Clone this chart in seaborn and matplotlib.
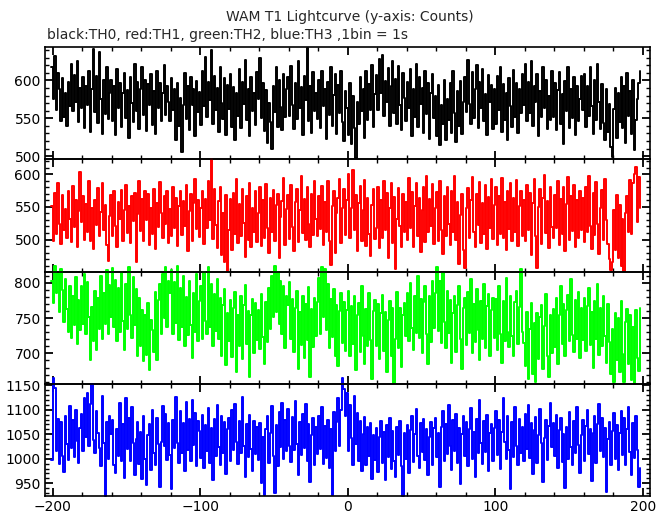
import numpy as np
import pandas as pd
import matplotlib
matplotlib.use("Agg")
import matplotlib.pyplot as plt
import seaborn as sns
from matplotlib.ticker import MultipleLocator

# ---- data (counts per 1 s bin) ----
time_start = -201  # first bin left edge (s)

th0_counts = [
    618, 575, 632, 561, 610, 588, 547, 603, 552, 584, 540, 598, 566, 621, 559, 607, 571, 626, 545, 590,
    563, 604, 537, 593, 568, 612, 532, 589, 641, 558, 606, 544, 638, 575, 529, 600, 556, 618, 549, 584,
    601, 547, 592, 528, 615, 563, 596, 538, 583, 610, 551, 587, 524, 604, 570, 545, 622, 559, 598, 536,
    589, 617, 554, 601, 533, 595, 568, 609, 541, 586, 529, 612, 563, 597, 546, 583, 620, 555, 592, 571,
    547, 603, 561, 588, 522, 596, 540, 577, 505, 568, 610, 549, 593, 535, 604, 567, 589, 526, 599, 558,
    585, 541, 612, 566, 631, 552, 598, 574, 640, 543, 606, 561, 590, 532, 617, 570, 549, 603, 528, 594,
    562, 608, 539, 591, 522, 584, 553, 615, 537, 598, 569, 627, 548, 589, 526, 604, 560, 583, 541, 611,
    576, 629, 551, 596, 533, 587, 518, 570, 545, 510, 592, 558, 618, 539, 601, 565, 534, 609, 552, 588,
    604, 553, 619, 568, 536, 597, 549, 625, 563, 591, 528, 606, 574, 643, 547, 592, 531, 611, 560, 583,
    549, 600, 537, 612, 566, 589, 523, 598, 554, 617, 540, 581, 608, 529, 594, 557, 613, 545, 520, 586,
    563, 528, 597, 516, 580, 537, 498, 571, 542, 605, 559, 589, 524, 612, 548, 595, 561, 620, 538, 582,
    607, 561, 628, 584, 633, 553, 599, 571, 616, 540, 593, 626, 557, 602, 543, 619, 568, 534, 610, 577,
    546, 598, 563, 615, 527, 589, 552, 621, 538, 604, 569, 590, 531, 612, 556, 597, 523, 583, 608, 550,
    579, 527, 594, 515, 568, 542, 601, 522, 575, 548, 596, 531, 613, 557, 519, 586, 540, 599, 529, 572,
    604, 558, 627, 569, 542, 611, 550, 589, 620, 537, 598, 563, 615, 546, 582, 528, 607, 571, 594, 536,
    589, 543, 606, 561, 617, 532, 595, 548, 584, 521, 603, 566, 538, 614, 552, 597, 531, 588, 557, 609,
    568, 622, 546, 598, 557, 625, 540, 593, 571, 609, 527, 586, 552, 618, 563, 601, 536, 580, 548, 612,
    552, 596, 534, 587, 611, 543, 582, 516, 599, 560, 618, 537, 589, 551, 604, 528, 592, 547, 575, 606,
    561, 609, 538, 592, 553, 617, 566, 529, 600, 548, 621, 571, 536, 595, 544, 521, 588, 532, 569, 512,
    499, 562, 590, 524, 583, 545, 605, 537, 592, 518, 610, 553, 586, 529, 601, 508, 548, 575, 596, 612,
]

th1_counts = [
    552, 498, 571, 509, 586, 524, 493, 568, 515, 547, 502, 575, 531, 496, 582, 519, 560, 489, 543, 603,
    527, 566, 500, 554, 512, 589, 497, 548, 485, 561, 523, 579, 506, 542, 587, 514, 553, 492, 467, 536,
    568, 506, 574, 521, 488, 557, 532, 576, 498, 545, 583, 510, 551, 494, 566, 528, 571, 466, 539, 590,
    513, 562, 497, 575, 530, 569, 491, 548, 509, 578, 486, 556, 519, 588, 541, 503, 567, 524, 574, 495,
    547, 505, 580, 518, 563, 490, 551, 574, 507, 559, 521, 584, 482, 543, 570, 498, 556, 592, 516, 561,
    504, 548, 575, 493, 562, 517, 589, 530, 623, 501, 577, 522, 487, 559, 581, 476, 540, 465, 568, 452,
    515, 562, 484, 571, 509, 593, 494, 554, 506, 578, 525, 473, 566, 500, 586, 488, 549, 512, 575, 496,
    541, 580, 490, 560, 503, 585, 518, 479, 563, 511, 576, 497, 553, 570, 471, 534, 559, 594, 492, 547,
    568, 501, 584, 519, 482, 558, 577, 496, 545, 598, 510, 562, 499, 581, 524, 488, 569, 507, 590, 532,
    505, 566, 516, 582, 491, 557, 512, 589, 498, 461, 552, 574, 479, 541, 563, 592, 494, 548, 578, 507,
    561, 600, 502, 549, 606, 515, 568, 483, 556, 582, 497, 546, 591, 490, 564, 508, 475, 553, 577, 501,
    518, 581, 487, 560, 503, 589, 514, 571, 472, 549, 586, 495, 565, 455, 532, 579, 521, 488, 570, 511,
    557, 499, 594, 517, 573, 489, 552, 587, 505, 563, 481, 546, 580, 496, 598, 511, 562, 520, 585, 493,
    549, 573, 498, 590, 515, 478, 566, 506, 581, 524, 491, 575, 512, 597, 500, 557, 463, 538, 569, 484,
    457, 548, 579, 503, 561, 596, 511, 489, 570, 522, 588, 495, 556, 508, 584, 486, 565, 517, 593, 501,
    553, 580, 492, 566, 509, 595, 502, 558, 484, 575, 516, 587, 497, 563, 512, 591, 490, 552, 574, 506,
    560, 497, 584, 514, 572, 476, 556, 593, 505, 456, 550, 577, 493, 564, 599, 510, 559, 487, 581, 519,
    502, 568, 517, 590, 491, 562, 508, 580, 482, 555, 596, 499, 566, 513, 584, 488, 560, 503, 575, 515,
    564, 496, 581, 511, 598, 520, 486, 572, 507, 588, 524, 478, 549, 576, 499, 592, 530, 493, 470, 453,
    466, 545, 484, 568, 471, 553, 460, 531, 452, 540, 566, 512, 591, 509, 587, 600, 611, 527, 596, 548,
]

th2_counts = [
    803, 771, 824, 786, 812, 758, 819, 790, 745, 806, 763, 731, 795, 722, 781, 740, 808, 714, 776, 733,
    795, 742, 812, 728, 801, 751, 690, 766, 718, 789, 705, 778, 735, 810, 721, 786, 741, 818, 727, 797,
    752, 821, 737, 804, 718, 792, 731, 815, 746, 705, 799, 734, 823, 754, 722, 808, 740, 791, 696, 779,
    711, 762, 689, 754, 698, 771, 676, 748, 733, 702, 787, 690, 776, 798, 727, 813, 750, 822, 738, 803,
    785, 818, 728, 801, 743, 824, 719, 792, 737, 809, 711, 780, 726, 803, 740, 694, 786, 731, 812, 717,
    774, 795, 720, 816, 746, 728, 823, 737, 799, 711, 784, 732, 806, 721, 778, 697, 769, 791, 684, 757,
    718, 775, 695, 764, 787, 674, 755, 710, 781, 692, 768, 797, 713, 760, 667, 754, 777, 701, 772, 719,
    762, 706, 784, 723, 685, 773, 716, 792, 735, 809, 752, 824, 758, 815, 741, 802, 727, 795, 707, 781,
    768, 801, 721, 777, 702, 765, 788, 678, 759, 712, 782, 693, 770, 719, 794, 666, 763, 709, 779, 725,
    773, 807, 728, 823, 752, 819, 733, 798, 707, 777, 723, 791, 696, 769, 682, 760, 785, 715, 773, 704,
    762, 788, 697, 767, 713, 782, 676, 754, 771, 702, 795, 725, 685, 763, 710, 785, 719, 664, 760, 776,
    711, 770, 692, 757, 783, 703, 759, 673, 747, 774, 696, 765, 658, 720, 787, 708, 764, 681, 754, 772,
    725, 785, 717, 800, 736, 705, 782, 729, 809, 722, 777, 700, 773, 795, 727, 685, 781, 716, 803, 736,
    785, 822, 732, 802, 715, 814, 744, 708, 788, 729, 775, 686, 757, 782, 702, 769, 795, 721, 678, 765,
    778, 712, 787, 729, 805, 700, 770, 716, 791, 733, 690, 774, 721, 798, 708, 767, 784, 697, 762, 779,
    722, 777, 705, 795, 728, 686, 774, 717, 807, 731, 709, 782, 724, 696, 773, 789, 713, 766, 820, 730,
    715, 682, 758, 664, 735, 771, 671, 743, 659, 757, 692, 752, 768, 678, 739, 784, 696, 667, 755, 700,
    763, 709, 779, 685, 754, 795, 713, 770, 696, 761, 783, 717, 805, 726, 702, 776, 720, 787, 693, 764,
    719, 778, 703, 767, 792, 712, 759, 680, 774, 721, 798, 698, 765, 710, 781, 725, 687, 770, 716, 671,
    735, 660, 757, 690, 750, 674, 774, 699, 659, 744, 763, 685, 755, 662, 738, 657, 761, 694, 675, 764,
]

th3_counts = [
    998, 1165, 1145, 1015, 1082, 990, 1075, 1006, 973, 1087, 1030, 997, 1108, 1022, 1080, 1003, 1099, 1036, 992, 1063,
    1091, 1016, 1123, 1045, 1134, 1027, 1112, 1152, 1038, 1011, 1097, 1053, 1021, 986, 1128, 1033, 924, 1074, 1000, 1088,
    1051, 1079, 987, 970, 1060, 1005, 1113, 996, 1070, 961, 1124, 1020, 1083, 995, 1105, 1032, 966, 1041, 1075, 990,
    1055, 958, 1087, 999, 946, 1048, 1071, 977, 1099, 1011, 988, 1084, 1030, 942, 1035, 1108, 1025, 1091, 997, 1073,
    1008, 938, 1079, 1021, 1126, 1033, 991, 1097, 1012, 1072, 974, 1115, 1018, 1082, 996, 1119, 1029, 1093, 985, 1078,
    1057, 1002, 1090, 981, 1068, 1015, 1104, 992, 1062, 956, 1081, 1006, 1109, 1023, 987, 1087, 1011, 1074, 969, 1060,
    1083, 995, 1100, 1017, 1112, 1034, 989, 1078, 1012, 1125, 1027, 962, 1071, 1003, 1090, 1020, 976, 1077, 1009, 1064,
    997, 1072, 950, 1045, 926, 1061, 1087, 992, 1053, 1108, 1005, 930, 1069, 986, 1095, 1024, 1113, 1000, 1079, 1015,
    1101, 1026, 993, 1085, 1018, 1117, 1031, 967, 1074, 1007, 1092, 1022, 1111, 996, 1071, 952, 1048, 1083, 988, 1065,
    1010, 1088, 1019, 1105, 990, 1067, 1002, 1079, 981, 1060, 926, 1095, 1016, 1074, 1124, 1025, 1100, 1165, 1142, 1087,
    1134, 1016, 1110, 1042, 987, 1128, 1031, 1094, 996, 1077, 974, 1051, 1085, 988, 1065, 1006, 1073, 959, 1049, 998,
    1062, 972, 1045, 1077, 991, 1054, 956, 1069, 1003, 1083, 979, 1057, 995, 962, 1065, 1008, 1076, 986, 924, 1052,
    999, 1068, 971, 1059, 1087, 993, 1051, 1102, 1005, 982, 1073, 1014, 1081, 997, 1060, 967, 1044, 1074, 988, 1063,
    1084, 1003, 1053, 943, 1065, 1098, 995, 1071, 1010, 1109, 1025, 978, 1079, 1015, 1092, 992, 1063, 949, 1051, 1088,
    1006, 1074, 985, 1060, 1103, 1000, 1055, 962, 1082, 1011, 1119, 1032, 989, 1077, 1013, 1090, 976, 1052, 1071, 996,
    1062, 1097, 1008, 1079, 980, 1054, 1123, 1035, 999, 1088, 1017, 938, 1074, 1004, 1105, 1026, 987, 1082, 1011, 1065,
    995, 1091, 1020, 1110, 1002, 1073, 968, 1059, 1085, 991, 1048, 1101, 1033, 953, 1042, 1079, 998, 1067, 1114, 1023,
    1072, 1005, 1090, 982, 1059, 1083, 993, 1051, 940, 1064, 1000, 1095, 1024, 987, 1077, 1012, 1106, 1029, 971, 1049,
    1080, 996, 1067, 1099, 1010, 1061, 955, 1053, 1088, 992, 1071, 1112, 1015, 1083, 1003, 1062, 933, 1041, 1075, 988,
    1057, 1093, 999, 1068, 978, 1052, 1097, 1007, 1084, 987, 1060, 1105, 1013, 966, 1072, 1001, 1087, 1018, 942, 982,
]

series_names = ["TH0", "TH1", "TH2", "TH3"]
series_colors = ["#000000", "#ff0000", "#00ff00", "#0000ff"]
series_values = [th0_counts, th1_counts, th2_counts, th3_counts]
y_limits = [(496, 644), (451, 623), (657, 816), (924, 1153)]
x_limits = (-205.4, 205.0)
x_ticks = [-200, -100, 0, 100, 200]

title_text = "WAM T1 Lightcurve (y-axis: Counts)"
subtitle_text = "black:TH0, red:TH1, green:TH2, blue:TH3 ,1bin = 1s"

# ---- drawing ----
sns.set_style("ticks")
plt.rcParams["font.family"] = ["DejaVu Sans"]
plt.rcParams["axes.unicode_minus"] = True

W_PX, H_PX = 669, 515
fig = plt.figure(figsize=(W_PX / 100, H_PX / 100), dpi=100)
fig.patch.set_facecolor("white")

left_px, right_px = 45, 650
top_px, bottom_px = 47, 496
panel_h = (bottom_px - top_px) / 4.0

for i, (name, col, vals, ylim) in enumerate(zip(series_names, series_colors, series_values, y_limits)):
    y0 = top_px + i * panel_h
    ax = fig.add_axes([left_px / W_PX, 1 - (y0 + panel_h) / H_PX,
                       (right_px - left_px) / W_PX, panel_h / H_PX])
    t = time_start + np.arange(len(vals))
    df = pd.DataFrame({"time": t, "counts": vals})
    sns.lineplot(data=df, x="time", y="counts", ax=ax, color=col, linewidth=1.4,
                 drawstyle="steps-post", estimator=None, clip_on=False, zorder=1)
    ax.set_xlim(*x_limits)
    ax.set_ylim(*ylim)
    ax.set_xlabel("")
    ax.set_ylabel("")
    ax.set_facecolor("none")
    ax.xaxis.set_major_locator(MultipleLocator(100))
    ax.xaxis.set_minor_locator(MultipleLocator(20))
    ax.yaxis.set_major_locator(MultipleLocator(50))
    ax.yaxis.set_minor_locator(MultipleLocator(10))
    ax.tick_params(which="both", direction="in", top=True, right=True,
                   bottom=True, left=True, colors="black")
    ax.tick_params(which="major", length=6, width=1.3, labelsize=10, pad=3)
    ax.tick_params(which="minor", length=3, width=1.0)
    for sp in ax.spines.values():
        sp.set_linewidth(1.2)
        sp.set_color("black")
        sp.set_zorder(3)
    if i < 3:
        ax.tick_params(labelbottom=False)
    else:
        ax.set_xticks(x_ticks)

fig.text(350 / W_PX, 1 - 17 / H_PX, title_text, ha="center", va="center", fontsize=10)
fig.text(47 / W_PX, 1 - 35 / H_PX, subtitle_text, ha="left", va="center", fontsize=10)

fig.savefig("out.png", dpi=100, facecolor="white")
